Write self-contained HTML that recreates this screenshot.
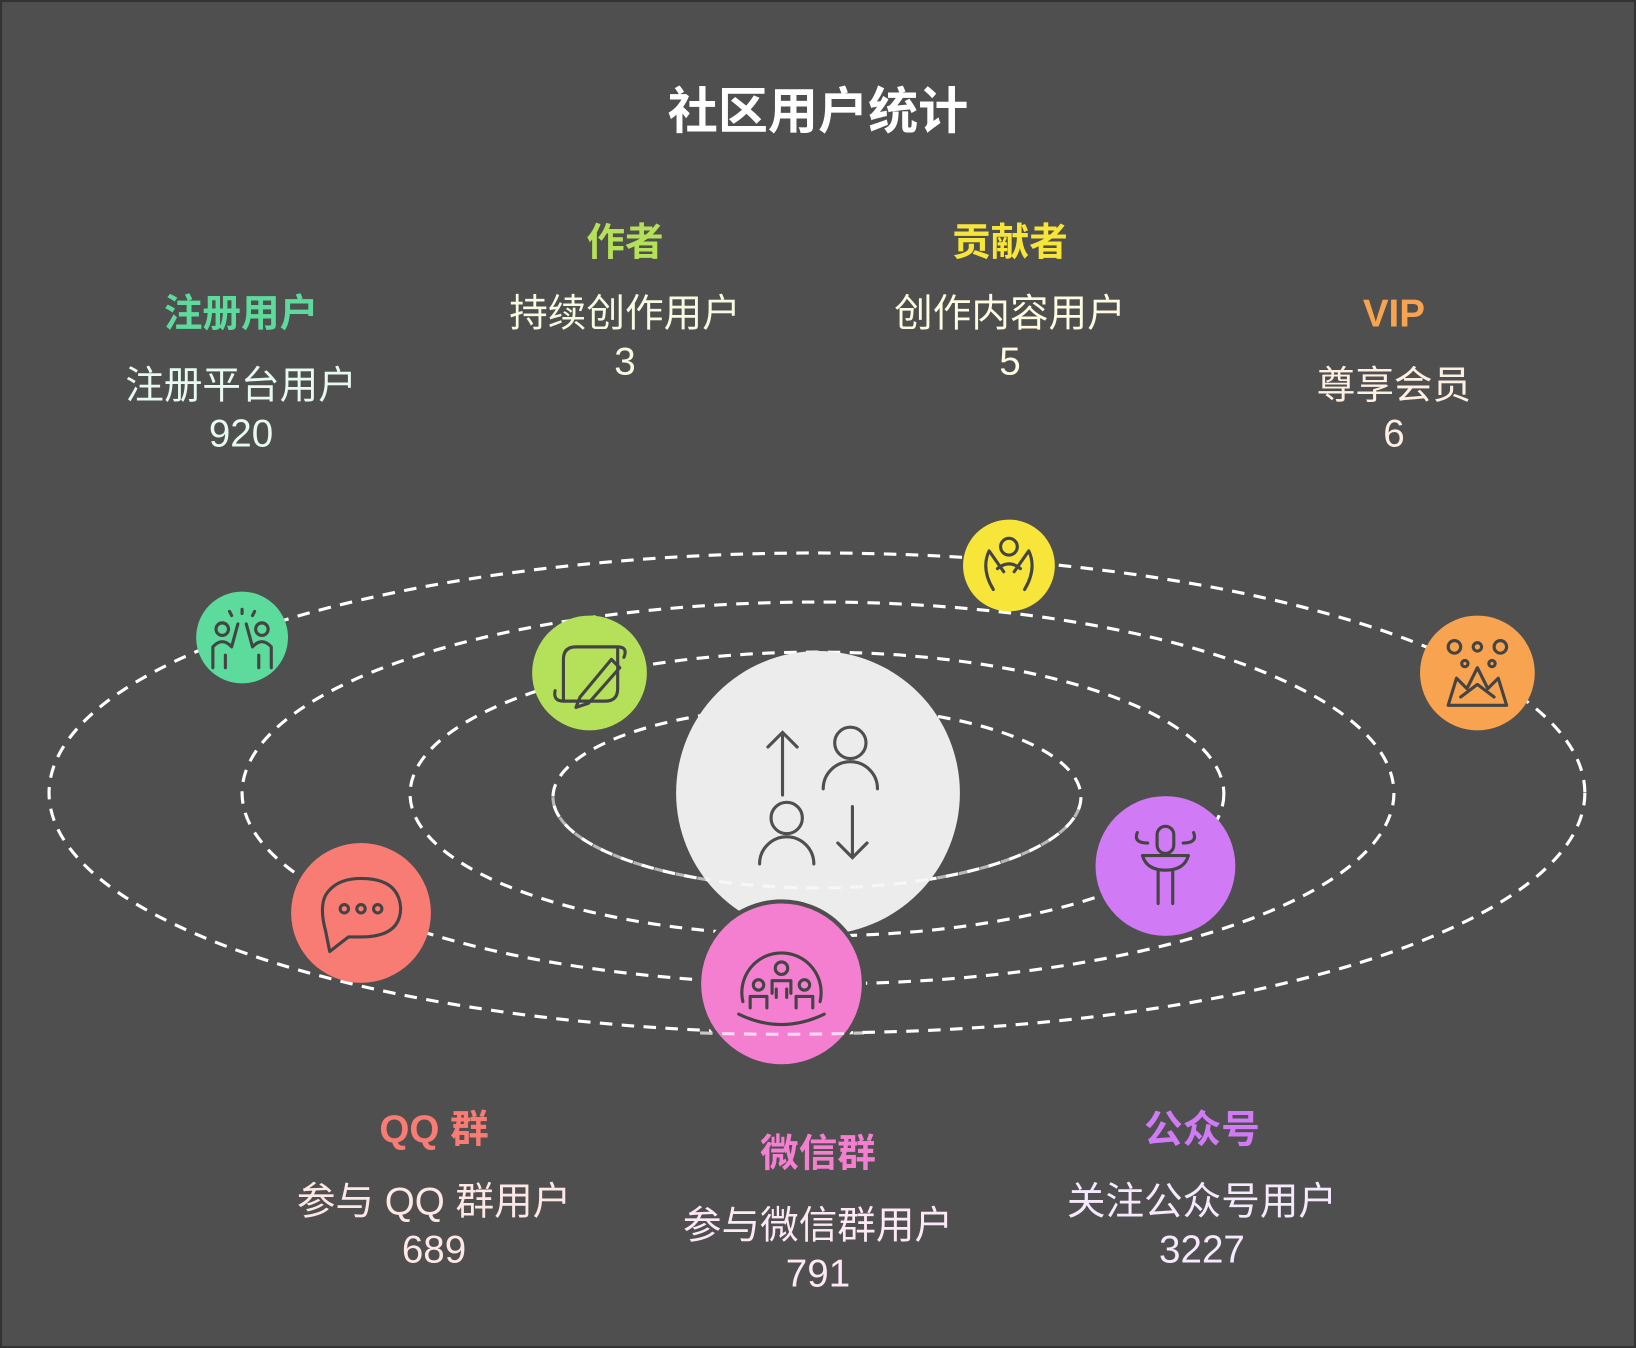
<!DOCTYPE html>
<html><head><meta charset="utf-8"><style>
html,body{margin:0;padding:0;background:#4f4f4f}
svg{display:block}
text{font-family:"Liberation Sans","Noto Sans CJK SC",sans-serif;text-anchor:middle}
.h{font-weight:bold;font-size:37px}
.t{font-size:37px}
</style></head><body>
<svg width="1636" height="1348" viewBox="0 0 1568 1292" xmlns="http://www.w3.org/2000/svg">
<rect x="1" y="1" width="1566" height="1290" fill="#4f4f4f" stroke="#333" stroke-width="2"/>
<text x="784" y="123" font-size="48" font-weight="bold" fill="#fff">社区用户统计</text>

<text class="h" x="231" y="313" fill="#5ddb9c">注册用户</text>
<text class="t" x="231" y="382" fill="#e6faef">注册平台用户</text>
<text class="t" x="231" y="428" fill="#e6faef">920</text>

<text class="h" x="599" y="245" fill="#b4e05a">作者</text>
<text class="t" x="599" y="313" fill="#f5fbe0">持续创作用户</text>
<text class="t" x="599" y="359" fill="#f5fbe0">3</text>

<text class="h" x="968" y="245" fill="#f7e53a">贡献者</text>
<text class="t" x="968" y="313" fill="#fdfbe0">创作内容用户</text>
<text class="t" x="968" y="359" fill="#fdfbe0">5</text>

<text class="h" x="1336" y="313" fill="#f7a350">VIP</text>
<text class="t" x="1336" y="382" fill="#fdf0e2">尊享会员</text>
<text class="t" x="1336" y="428" fill="#fdf0e2">6</text>

<text class="h" x="416" y="1095" fill="#f87c74">QQ 群</text>
<text class="t" x="416" y="1164" fill="#fde8e6">参与 QQ 群用户</text>
<text class="t" x="416" y="1210" fill="#fde8e6">689</text>

<text class="h" x="784" y="1118" fill="#f47ed0">微信群</text>
<text class="t" x="784" y="1187" fill="#fde8f6">参与微信群用户</text>
<text class="t" x="784" y="1233" fill="#fde8f6">791</text>

<text class="h" x="1152" y="1095" fill="#d07af5">公众号</text>
<text class="t" x="1152" y="1164" fill="#f6e8fd">关注公众号用户</text>
<text class="t" x="1152" y="1210" fill="#f6e8fd">3227</text>

<g fill="none" stroke="#fff" stroke-width="3" stroke-dasharray="12 9">
<ellipse cx="783" cy="760" rx="736" ry="230"/>
<ellipse cx="784" cy="760" rx="552" ry="183"/>
<ellipse cx="783" cy="761" rx="390" ry="136"/>
<ellipse cx="783" cy="764" rx="253" ry="87"/>
</g>
<circle cx="784" cy="760" r="136" fill="#ececec"/>
<path d="M530 764 A253 87 0 0 0 1036 764" fill="none" stroke="#fff" stroke-opacity="0.6" stroke-width="3" stroke-dasharray="12 9"/>
<g fill="none" stroke="#4f4f4f" stroke-width="3" stroke-linecap="round">
<path d="M750 762 V702 M736 716 L750 702 L764 716"/>
<circle cx="815" cy="712" r="15"/><path d="M789 756 A26 26 0 0 1 841 756"/>
<circle cx="754" cy="784" r="15"/><path d="M728 828 A26 26 0 0 1 780 828"/>
<path d="M817 773 V822 M803 808 L817 822 L831 808"/>
</g>

<circle cx="232" cy="611" r="44" fill="#5ddb9c"/>
<circle cx="565" cy="645" r="55" fill="#b4e05a"/>
<circle cx="967" cy="542" r="44" fill="#f7e53a"/>
<circle cx="1416" cy="645" r="55" fill="#f7a350"/>
<circle cx="1117" cy="830" r="67" fill="#d07af5"/>
<circle cx="346" cy="875" r="67" fill="#f87c74"/>
<circle cx="749" cy="943" r="79" fill="#f47ed0" stroke="#4f4f4f" stroke-width="4"/>
<path d="M671 990 A736 230 0 0 0 828 990" fill="none" stroke="#fff" stroke-opacity="0.7" stroke-width="3" stroke-dasharray="12 9"/>

<g fill="none" stroke="#444" stroke-width="3" stroke-linecap="round" stroke-linejoin="round">
<circle cx="213" cy="603" r="6"/><circle cx="251" cy="603" r="6"/>
<path d="M204 640 V620 Q213 610 222 620 L228 598 M260 640 V620 Q251 610 242 620 L236 598 M216 640 V628 M248 640 V628 M232 588 V584 M222 590 L220 586 M242 590 L244 586"/>
<path d="M540 672 H580 Q592 672 592 660 V620 H552 Q540 620 540 632 V672 Q530 672 532 662 M592 620 Q602 620 598 630 M556 668 L586 632 L594 640 L564 674 L552 678 Z"/>
<circle cx="967" cy="524" r="8"/>
<path d="M952 565 Q940 545 948 528 L962 548 M982 565 Q994 545 986 528 L972 548 M956 545 Q967 536 978 545"/>
<path d="M1388 676 H1444 L1436 650 L1426 660 L1416 640 L1406 660 L1396 650 Z M1400 668 L1416 656 L1432 668"/>
<circle cx="1394" cy="620" r="6"/><circle cx="1416" cy="620" r="4"/><circle cx="1438" cy="620" r="6"/><circle cx="1404" cy="636" r="3"/><circle cx="1430" cy="636" r="3"/>
<rect x="1109" y="792" width="16" height="26" rx="8"/>
<path d="M1095 820 H1139 Q1135 834 1117 834 Q1099 834 1095 820 M1110 834 V866 M1124 834 V866 M1100 808 Q1086 808 1090 798 M1134 808 Q1148 808 1144 798"/>
<path d="M312 892 Q306 870 312 858 Q322 842 346 842 Q382 842 384 870 Q384 898 346 898 L334 898 L316 912 Z"/>
<circle cx="330" cy="871" r="4"/><circle cx="346" cy="871" r="4"/><circle cx="362" cy="871" r="4"/>
<path d="M712 960 A38 38 0 1 1 786 960 M708 972 Q749 992 790 972"/>
<circle cx="749" cy="928" r="6"/><path d="M740 952 V940 H758 V952 M744 956 V948 M754 956 V948"/>
<circle cx="727" cy="944" r="5"/><path d="M719 966 V955 H735 V966"/>
<circle cx="771" cy="944" r="5"/><path d="M763 966 V955 H779 V966"/>
</g>
</svg>
</body></html>
